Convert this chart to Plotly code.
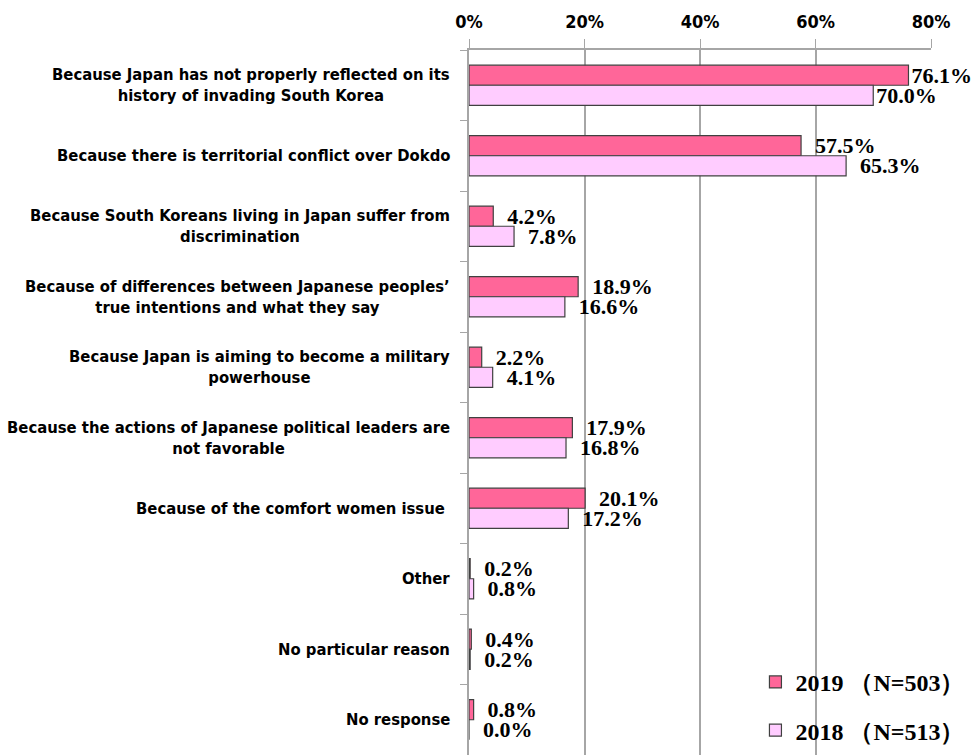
import plotly.graph_objects as go

categories = [
    "Because Japan has not properly reflected on its<br>history of invading South Korea",
    "Because there is territorial conflict over Dokdo",
    "Because South Koreans living in Japan suffer from<br>discrimination",
    "Because of differences between Japanese peoples’<br>true intentions and what they say",
    "Because Japan is aiming to become a military<br>powerhouse",
    "Because the actions of Japanese political leaders are<br>not favorable",
    "Because of the comfort women issue ",
    "Other",
    "No particular reason",
    "No response",
]
values_2019 = [76.1, 57.5, 4.2, 18.9, 2.2, 17.9, 20.1, 0.2, 0.4, 0.8]
values_2018 = [70.0, 65.3, 7.8, 16.6, 4.1, 16.8, 17.2, 0.8, 0.2, 0.0]
series_names = ["2019 （N=503）", "2018 （N=513）"]
tick_values = [0, 20, 40, 60, 80]
tick_labels = ["0%", "20%", "40%", "60%", "80%"]

GRID = "#A6A6A6"
LABEL_FONT = "DejaVu Sans Condensed, sans-serif"
NUM_FONT = "Liberation Serif, serif"


def label(v):
    # bars near the right edge get their label tight against the bar end
    pad = "" if v > 68 else "\u00a0\u00a0"
    return pad + "{:.1f}%".format(v)


fig = go.Figure()
for name, vals, color, grp in [(series_names[0], values_2019, "#FF6699", "a"),
                               (series_names[1], values_2018, "#FFCCFF", "b")]:
    fig.add_trace(go.Bar(
        y=categories, x=vals, name=name, orientation="h",
        legendgroup=grp,
        marker=dict(color=color, line=dict(color="#404040", width=1.2)),
        text=[label(v) for v in vals],
        textposition="outside", constraintext="none", cliponaxis=False,
        textfont=dict(family=NUM_FONT, size=22, color="black", weight="bold"),
    ))

for cat in categories:
    fig.add_annotation(
        x=0, y=cat, xref="x", yref="y", text="<b>" + cat + "</b>",
        xanchor="right", yanchor="middle", align="center", xshift=-17,
        showarrow=False, font=dict(family=LABEL_FONT, size=16.5, color="black"),
    )

fig.update_layout(
    width=973, height=755,
    margin=dict(l=469, r=42, t=50, b=0),
    paper_bgcolor="white", plot_bgcolor="white",
    barmode="group", bargap=0.43, bargroupgap=0,
    legend=dict(x=0.62, y=0.135, xanchor="left", yanchor="top",
                bgcolor="rgba(0,0,0,0)", traceorder="grouped", tracegroupgap=14,
                font=dict(family=NUM_FONT, size=24, color="black", weight="bold")),
    showlegend=True,
)
fig.update_xaxes(
    side="top", range=[0, 80], tickvals=tick_values, ticktext=tick_labels,
    showgrid=True, gridcolor=GRID, gridwidth=1.5, zeroline=False,
    showline=True, linecolor=GRID, linewidth=1.5,
    ticks="outside", ticklen=9, tickcolor=GRID, ticklabelstandoff=4,
    tickfont=dict(family=LABEL_FONT, size=18, color="black", weight="bold"),
)
fig.update_yaxes(
    autorange="reversed", showticklabels=False,
    showline=True, linecolor=GRID, linewidth=1.5,
    ticks="outside", tickson="boundaries", ticklen=7, tickcolor=GRID,
    showgrid=False,
)

fig.write_html("out.html", config={"displayModeBar": False},
               post_script="document.body.style.margin='0';")
